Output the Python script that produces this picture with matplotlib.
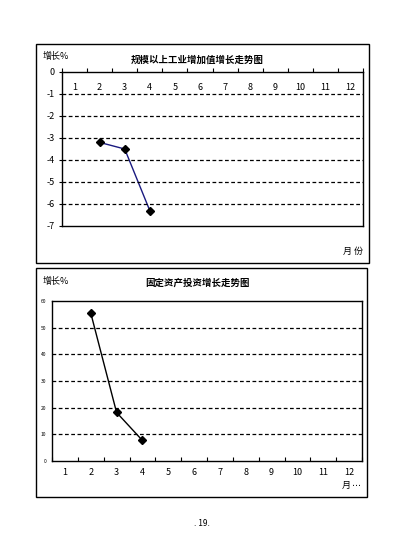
import matplotlib
matplotlib.use('Agg')
import matplotlib.pyplot as plt
from matplotlib.patches import Rectangle

plt.rcParams['font.family'] = ['Noto Sans CJK SC', 'DejaVu Sans']
plt.rcParams['axes.unicode_minus'] = False

months = [str(m) for m in range(1, 13)]
ind_months = [2, 3, 4]
ind_growth = [-3.2, -3.5, -6.3]
inv_months = [2, 3, 4]
inv_growth = [55.5, 18.2, 7.7]

W, H = 395, 558
fig = plt.figure(figsize=(W / 100, H / 100), dpi=100)


def frac(x0, y0, x1, y1):
    # pixel box (top-left origin) -> figure fraction [l, b, w, h]
    return [x0 / W, 1 - y1 / H, (x1 - x0) / W, (y1 - y0) / H]


def box(x0, y0, x1, y1):
    l, b, w, h = frac(x0, y0, x1, y1)
    fig.add_artist(Rectangle((l, b), w, h, transform=fig.transFigure,
                             fill=False, edgecolor='black', linewidth=1.0))


def ftext(x, y, s, **kw):
    fig.text(x / W, 1 - y / H, s, **kw)


# ---------------- 规模以上工业增加值 ----------------
box(36, 44, 369, 263)
ax1 = fig.add_axes(frac(62, 72, 363, 226))
ax1.plot(ind_months, ind_growth, color='#1a1a80', linewidth=1.0,
         marker='D', markersize=4, markerfacecolor='black', markeredgecolor='black')
ax1.set_xlim(0.5, 12.5)
ax1.set_ylim(-7, 0)
ax1.set_yticks(range(-7, 1))
ax1.set_yticklabels([str(v) for v in range(-7, 1)], fontsize=6.5)
ax1.tick_params(axis='y', length=2, pad=3)
ax1.xaxis.tick_top()
ax1.set_xticks([i + 0.5 for i in range(0, 13)])
ax1.set_xticklabels([])
ax1.tick_params(axis='x', direction='out', length=3, width=0.8)
for i, m in enumerate(months):
    ax1.text(i + 1, 0.90, m, transform=ax1.get_xaxis_transform(),
             ha='center', va='center', fontsize=6.5)
for v in range(-6, 0):
    ax1.axhline(v, color='black', linestyle=(0, (3, 2)), linewidth=0.9)
for s in ax1.spines.values():
    s.set_linewidth(1.0)

ftext(56, 56, '增长%', ha='center', va='center', fontsize=6.5)
ftext(197, 60, '规模以上工业增加值增长走势图', ha='center', va='center',
      fontsize=6.8, fontweight='bold')
ftext(353, 251, '月 份', ha='center', va='center', fontsize=6.5)

# ---------------- 固定资产投资 ----------------
box(36, 268, 367, 497)
ax2 = fig.add_axes(frac(52, 301, 362, 461))
ax2.plot(inv_months, inv_growth, color='black', linewidth=1.0,
         marker='D', markersize=4, markerfacecolor='black', markeredgecolor='black')
ax2.set_xlim(0.5, 12.5)
ax2.set_ylim(0, 60)
ax2.set_yticks(range(0, 61, 10))
ax2.set_yticklabels([str(v) for v in range(0, 61, 10)], fontsize=3.5)
ax2.tick_params(axis='y', length=0, pad=4)
ax2.set_xticks([i + 0.5 for i in range(0, 13)])
ax2.set_xticklabels([])
ax2.tick_params(axis='x', which='major', direction='in', length=3, width=0.8)
ax2.set_xticks(range(1, 13), minor=True)
ax2.set_xticklabels(months, minor=True, fontsize=6.5)
ax2.tick_params(axis='x', which='minor', length=0, pad=5)
for v in range(10, 60, 10):
    ax2.axhline(v, color='black', linestyle=(0, (3, 2)), linewidth=0.9)
for s in ax2.spines.values():
    s.set_linewidth(1.0)

ftext(56, 281, '增长%', ha='center', va='center', fontsize=6.5)
ftext(197, 283, '固定资产投资增长走势图', ha='center', va='center',
      fontsize=6.8, fontweight='bold')
ftext(346, 485, '月', ha='center', va='center', fontsize=6.5)
ftext(352, 485, '\u22ef', ha='left', va='center', fontsize=6.5,
      family=['DejaVu Sans'])

ftext(202, 523, '. 19.', ha='center', va='center', fontsize=6)

fig.savefig('out.png', dpi=100)
